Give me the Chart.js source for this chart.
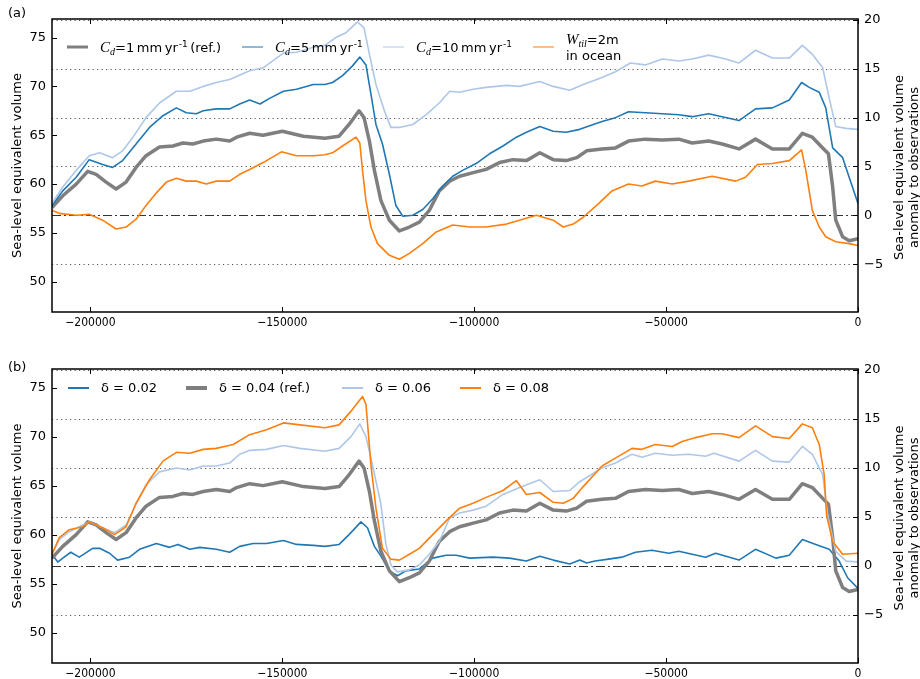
<!DOCTYPE html>
<html>
<head>
<meta charset="utf-8">
<script src="https://cdn.jsdelivr.net/npm/chart.js@4.4.0/dist/chart.umd.min.js"></script>
<style>
  body { margin: 0; background: #fff; }
  #page { position: relative; width: 920px; height: 679px; font-family: "DejaVu Sans", sans-serif; color: #000; }
  .panel { position: absolute; left: 0; width: 920px; }
  .panel canvas { position: absolute; left: 0; top: 0; }
  .tag { position: absolute; left: 8px; font-size: 13px; line-height: 16px; }
  .item { position: absolute; display: flex; align-items: center; transform: translateY(-50%);
          font-size: 13px; line-height: 16px; white-space: nowrap; }
  .swatch { display: inline-block; width: 21px; margin-right: 12px; }
  .m { font-family: "Liberation Serif", "DejaVu Serif", serif; font-style: italic; font-size: 15px; }
  sub, sup { font-size: 9px; line-height: 0; position: relative; vertical-align: baseline; }
  sub.m { font-size: 10px; top: 3px; }
  sup { top: -5px; }
</style>
</head>
<body>
<div id="page">
  <div class="panel" id="panelA" style="top:0;height:340px">
    <canvas id="chartA" width="920" height="340"></canvas>
    <div class="tag" style="top:5px">(a)</div>
  </div>
  <div class="panel" id="panelB" style="top:340px;height:339px">
    <canvas id="chartB" width="920" height="339"></canvas>
    <div class="tag" style="top:19px">(b)</div>
  </div>
</div>
<script>
// anomaly to observations (right axis); left axis = anomaly + SLE_OBS
SLE_OBS = 56.8;
R_MIN = -9.9;
R_MAX = 20.1;
X_MIN = -210000;
X_MAX = 0;

xTicks = [-200000, -150000, -100000, -50000, 0];
leftTicks = [50, 55, 60, 65, 70, 75];
rightTicks = [-5, 0, 5, 10, 15, 20];

// reference run (Cd = 1 mm/yr, delta = 0.04), shared by both panels
refYears = [-210000,-207200,-203700,-200700,-198500,-195900,-193300,-190700,-188100,-185500,-182000,-178500,-175900,-173300,-170600,-167200,-163700,-161900,-158500,-155000,-150000,-144500,-138900,-135200,-132600,-130000,-128700,-127300,-126000,-124300,-122100,-119500,-116900,-114300,-111700,-109100,-106400,-103800,-100000,-96900,-93400,-89900,-86400,-82900,-79400,-76000,-73300,-70700,-66700,-63200,-59800,-55400,-51000,-46700,-43200,-38900,-35400,-31000,-26700,-22300,-17900,-14500,-11900,-9200,-7700,-6600,-5800,-4000,-2300,0];
refVals = [0.8,2.0,3.2,4.5,4.2,3.4,2.7,3.4,4.9,6.1,7.0,7.1,7.4,7.3,7.6,7.8,7.6,8.0,8.4,8.2,8.6,8.1,7.9,8.1,9.3,10.7,10.0,7.6,4.6,1.5,-0.5,-1.6,-1.2,-0.7,0.5,2.5,3.5,4.0,4.4,4.7,5.4,5.7,5.6,6.4,5.7,5.6,5.9,6.6,6.8,6.9,7.6,7.8,7.7,7.8,7.4,7.6,7.3,6.8,7.8,6.8,6.8,8.4,8.0,6.9,6.3,2.9,-0.5,-2.2,-2.6,-2.4];

// panel (a)
cd5Years = [-210000,-207200,-203700,-200300,-196800,-194200,-191600,-188100,-184600,-181100,-177600,-175000,-172400,-170600,-167200,-163700,-161100,-158500,-155800,-153200,-149700,-146300,-141900,-138900,-136900,-134300,-131700,-129800,-128200,-126900,-125600,-123900,-122100,-120400,-118600,-116000,-113400,-110800,-108200,-105600,-103000,-99500,-96000,-92500,-89000,-86400,-82900,-79400,-76000,-72500,-66700,-63200,-59800,-55400,-51000,-46700,-43200,-38900,-35400,-31000,-26700,-22300,-17900,-14700,-12700,-10100,-8400,-6600,-4000,-2300,0];
cd5Vals = [1.0,2.5,3.9,5.7,5.2,4.9,5.6,7.3,9.0,10.2,11.0,10.5,10.4,10.7,10.9,10.9,11.4,11.8,11.4,12.0,12.7,12.9,13.4,13.4,13.6,14.3,15.3,16.2,15.4,12.4,9.3,7.3,4.2,1.0,-0.1,0.0,0.6,1.7,3.0,4.0,4.6,5.3,6.3,7.1,8.0,8.5,9.1,8.6,8.5,8.8,9.6,10.0,10.6,10.5,10.4,10.3,10.1,10.4,10.1,9.7,10.9,11.0,11.8,13.6,13.1,12.6,11.0,6.9,5.9,3.9,1.2];

cd10Years = [-210000,-207200,-203700,-200300,-197600,-194200,-191600,-188900,-185500,-182000,-177600,-174100,-170600,-167200,-163700,-158500,-155000,-149700,-146300,-141900,-138900,-136100,-133400,-130400,-128700,-127300,-125600,-123400,-121700,-119500,-116000,-112500,-109100,-106400,-103800,-100300,-96900,-91600,-88200,-82900,-79400,-75100,-71600,-66700,-63200,-59300,-55400,-51000,-46700,-43200,-38900,-34500,-31000,-26700,-22300,-17900,-14500,-11900,-9200,-7500,-5800,-3100,0];
cd10Vals = [1.2,2.9,4.6,6.1,6.4,5.9,6.6,8.0,10.0,11.5,12.7,12.7,13.2,13.6,13.9,14.8,15.1,16.6,16.7,17.2,17.4,18.2,18.7,19.8,19.2,16.5,13.4,10.7,9.0,9.0,9.3,10.3,11.5,12.7,12.6,12.9,13.1,13.3,13.2,13.7,13.2,12.8,13.4,14.1,14.7,15.6,15.4,16.0,15.8,16.0,16.4,16.0,15.6,16.9,16.1,16.1,17.4,16.5,15.1,12.0,9.1,8.9,8.8];

wtilYears = [-210000,-208100,-203700,-200300,-196800,-193300,-190700,-188100,-185500,-182800,-180200,-177600,-175000,-172400,-169800,-167200,-163700,-161100,-158500,-155000,-150200,-146300,-141900,-138900,-136900,-134300,-130800,-129800,-129100,-128200,-126900,-125200,-122100,-119500,-116900,-113400,-109900,-105600,-101200,-96900,-91600,-88200,-83800,-79400,-76800,-74200,-71600,-67600,-64100,-59800,-56300,-52800,-48400,-44100,-38000,-31900,-29300,-26200,-22300,-17900,-14700,-13600,-11900,-10100,-8400,-5800,-2300,0];
wtilVals = [0.5,0.2,0.0,0.1,-0.5,-1.4,-1.2,-0.4,1.0,2.3,3.4,3.8,3.5,3.5,3.2,3.5,3.5,4.2,4.7,5.4,6.5,6.1,6.1,6.2,6.4,7.1,8.0,7.4,4.6,1.5,-1.2,-2.9,-4.1,-4.5,-3.9,-2.9,-1.7,-1.0,-1.2,-1.2,-0.9,-0.5,0.0,-0.5,-1.2,-0.9,-0.2,1.2,2.5,3.2,3.0,3.5,3.2,3.5,4.0,3.5,3.9,5.2,5.3,5.6,6.7,4.6,0.5,-1.2,-2.2,-2.7,-2.9,-3.1];

// panel (b)
d02Years = [-210000,-208500,-207200,-205100,-202900,-199400,-197600,-195000,-192900,-189800,-187200,-182800,-179400,-177200,-174100,-171500,-167200,-163700,-161100,-157600,-154100,-149700,-146300,-141900,-138900,-135200,-132600,-129500,-127800,-126000,-124300,-122100,-120000,-117800,-114300,-110800,-107300,-104700,-101200,-95100,-90800,-86400,-82900,-79400,-75100,-72500,-70700,-68500,-65000,-61500,-58000,-53700,-49300,-46700,-43200,-39700,-37100,-31000,-26700,-21400,-17900,-14500,-11000,-7500,-4900,-2700,0];
d02Vals = [1.2,0.4,0.8,1.4,0.9,1.8,1.8,1.3,0.6,0.9,1.7,2.3,1.9,2.2,1.7,1.9,1.7,1.4,2.0,2.3,2.3,2.6,2.2,2.1,2.0,2.2,3.2,4.5,3.9,2.0,1.0,-0.5,-1.0,-0.5,-0.3,0.8,1.1,1.1,0.8,0.9,0.8,0.5,1.0,0.6,0.2,0.6,0.3,0.5,0.7,0.9,1.4,1.6,1.3,1.5,1.2,0.9,1.3,0.6,1.7,0.8,1.1,2.7,2.2,1.7,0.5,-1.2,-2.3];

d06Years = [-210000,-208100,-205500,-202900,-200300,-196800,-193700,-190700,-188100,-185500,-182000,-177600,-174100,-170600,-167200,-163700,-161100,-158500,-154100,-149700,-145400,-138900,-135200,-132100,-129800,-128200,-126500,-124300,-123000,-121700,-120000,-116900,-114300,-111700,-109100,-106400,-103800,-100300,-96900,-92500,-88200,-82900,-79400,-75100,-72500,-66700,-63200,-58900,-56300,-52800,-48400,-44100,-39700,-37500,-31000,-26700,-22300,-17900,-14500,-11900,-9200,-7900,-5800,-3100,0];
d06Vals = [1.2,2.7,3.5,4.0,4.5,3.9,3.4,4.2,6.3,8.3,9.6,10.0,9.8,10.2,10.2,10.5,11.4,11.8,11.9,12.3,12.0,11.7,12.0,13.2,14.5,13.2,10.3,6.3,2.2,0.1,-0.6,-0.4,0.1,1.2,2.5,4.9,5.4,5.7,6.1,7.3,8.0,8.8,7.6,7.7,8.6,10.0,10.5,11.4,11.1,11.5,11.3,11.4,11.2,11.5,10.7,11.8,10.7,10.6,12.2,11.4,9.3,5.2,1.5,0.5,0.4];

d08Years = [-210000,-208100,-205500,-202000,-200300,-196800,-193700,-190700,-188100,-184600,-181100,-177600,-174100,-170600,-167200,-162800,-158500,-154100,-149700,-145400,-138900,-135200,-132100,-129100,-128200,-126900,-125600,-123900,-121700,-119500,-116900,-114300,-110800,-107300,-103800,-100300,-96900,-92500,-89000,-86400,-82900,-79400,-76800,-74200,-71600,-66700,-63200,-58900,-56300,-52800,-48400,-45800,-42300,-38000,-35400,-31000,-26700,-22300,-17900,-14500,-11900,-10100,-8800,-8200,-6600,-4000,0];
d08Vals = [1.2,2.9,3.7,4.0,4.5,3.9,3.2,4.0,6.4,8.8,10.7,11.6,11.5,11.9,12.0,12.4,13.4,13.9,14.6,14.4,14.1,14.4,15.8,17.3,16.5,10.3,5.9,1.8,0.7,0.6,1.2,1.8,3.2,4.6,5.9,6.4,7.0,7.7,8.7,7.3,7.5,6.5,6.4,6.9,8.1,10.2,11.0,12.0,11.9,12.4,12.2,12.7,13.1,13.5,13.5,13.1,14.3,13.2,13.0,14.5,14.1,12.4,9.3,5.2,2.5,1.2,1.3];

GRAY = '#7f7f7f';
BLUE = '#1f77b4';
LIGHTBLUE = '#aec7e8';
ORANGE = '#ff7f0e';

function minus(v) {
    return v < 0 ? '\u2212' + Math.abs(v) : String(v);
}

function pts(xs, ys) {
    return xs.map(function(x, i) { return {x: x, y: ys[i]}; });
}

// dotted grid, dash-dot zero line, frame, inward ticks, right title
var framePlugin = {
    id: 'frame',
    beforeDatasetsDraw(chart) {
        const ctx = chart.ctx, a = chart.chartArea, yR = chart.scales.yR;
        ctx.save();
        ctx.lineWidth = 1;
        rightTicks.forEach(function(v) {
            const y = Math.round(yR.getPixelForValue(v)) + 0.5;
            ctx.beginPath();
            if (v === 0) {
                ctx.setLineDash([9, 3, 2, 3]);
                ctx.strokeStyle = '#333';
            } else {
                ctx.setLineDash([1.2, 3.3]);
                ctx.strokeStyle = '#555';
            }
            ctx.moveTo(a.left, y);
            ctx.lineTo(a.right, y);
            ctx.stroke();
        });
        ctx.restore();
    },
    afterDraw(chart) {
        const ctx = chart.ctx, a = chart.chartArea, s = chart.scales;
        ctx.save();
        ctx.strokeStyle = '#000';
        ctx.lineWidth = 1;
        ctx.beginPath();
        xTicks.forEach(function(v) {
            const x = Math.round(s.x.getPixelForValue(v)) + 0.5;
            ctx.moveTo(x, a.bottom); ctx.lineTo(x, a.bottom - 5);
            ctx.moveTo(x, a.top); ctx.lineTo(x, a.top + 5);
        });
        leftTicks.forEach(function(v) {
            const y = Math.round(s.yL.getPixelForValue(v)) + 0.5;
            ctx.moveTo(a.left, y); ctx.lineTo(a.left + 5, y);
        });
        rightTicks.forEach(function(v) {
            const y = Math.round(s.yR.getPixelForValue(v)) + 0.5;
            ctx.moveTo(a.right, y); ctx.lineTo(a.right - 5, y);
        });
        ctx.stroke();
        ctx.lineWidth = 1.5;
        ctx.strokeRect(a.left, a.top, a.right - a.left, a.bottom - a.top);

        // right axis title, read bottom to top like the left one
        ctx.fillStyle = '#000';
        ctx.font = '13px "DejaVu Sans"';
        ctx.textAlign = 'center';
        ctx.textBaseline = 'middle';
        ctx.translate(a.right + 42, (a.top + a.bottom) / 2 + 2);
        ctx.rotate(-Math.PI / 2);
        ctx.fillText('Sea-level equivalent volume', 0, 0);
        ctx.fillText('anomaly to observations', 0, 15);
        ctx.restore();
    }
};

function makePanel(canvasId, series, padTop, xAxisH) {
    var n = series.length;
    var datasets = series.map(function(s, i) {
        return {
            label: s.label,
            legendHtml: s.html,
            data: pts(s.years, s.vals),
            borderColor: s.color,
            borderWidth: s.width,
            pointRadius: 0,
            tension: 0,
            fill: false,
            yAxisID: 'yR',
            order: n - 1 - i,
            borderJoinStyle: 'round'
        };
    });
    var tickFont = {family: '"DejaVu Sans", sans-serif', size: 13};
    return new Chart(document.getElementById(canvasId), {
        type: 'line',
        data: {datasets: datasets},
        options: {
            responsive: false,
            animation: false,
            events: [],
            layout: {padding: {top: padTop, left: 0, right: 0, bottom: 0}},
            plugins: {legend: {display: false}, tooltip: {enabled: false}},
            scales: {
                x: {
                    type: 'linear', min: X_MIN, max: X_MAX,
                    grid: {display: false, drawTicks: false},
                    border: {display: false},
                    afterBuildTicks: function(sc) { sc.ticks = xTicks.map(function(v) { return {value: v}; }); },
                    ticks: {
                        autoSkip: false, maxRotation: 0, padding: 4, color: '#000',
                        font: {family: '"Liberation Sans Narrow", "DejaVu Sans Condensed", sans-serif', size: 12},
                        callback: minus
                    },
                    afterFit: function(sc) { sc.height = xAxisH; }
                },
                yL: {
                    type: 'linear', position: 'left',
                    min: R_MIN + SLE_OBS, max: R_MAX + SLE_OBS,
                    grid: {display: false, drawTicks: false},
                    border: {display: false},
                    afterBuildTicks: function(sc) { sc.ticks = leftTicks.map(function(v) { return {value: v}; }); },
                    ticks: {padding: 6, color: '#000', font: tickFont, callback: minus},
                    title: {
                        display: true, text: 'Sea-level equivalent volume', color: '#000',
                        font: {family: '"DejaVu Sans", sans-serif', size: 13},
                        padding: {top: 10, bottom: 0}
                    },
                    afterFit: function(sc) { sc.width = 52; }
                },
                yR: {
                    type: 'linear', position: 'right',
                    min: R_MIN, max: R_MAX,
                    grid: {display: false, drawTicks: false},
                    border: {display: false},
                    afterBuildTicks: function(sc) { sc.ticks = rightTicks.map(function(v) { return {value: v}; }); },
                    ticks: {padding: 6, color: '#000', font: tickFont, callback: minus},
                    afterFit: function(sc) { sc.width = 62; }
                }
            }
        },
        plugins: [framePlugin]
    });
}

function buildLegend(panelId, chart, xs, cy) {
    var panel = document.getElementById(panelId);
    chart.data.datasets.forEach(function(ds, i) {
        var item = document.createElement('div');
        item.className = 'item';
        item.style.left = xs[i] + 'px';
        item.style.top = cy + 'px';
        var sw = document.createElement('span');
        sw.className = 'swatch';
        sw.style.height = ds.borderWidth + 'px';
        sw.style.background = ds.borderColor;
        var tx = document.createElement('span');
        tx.innerHTML = ds.legendHtml;
        item.appendChild(sw);
        item.appendChild(tx);
        panel.appendChild(item);
    });
}

var CD = '<span class="m">C</span><sub class="m">d</sub>';
var chartA = makePanel('chartA', [
    {label: 'Cd=1 mm yr-1 (ref.)', html: CD + '=1&#8201;mm&#8201;yr<sup>&#8202;-1</sup>&#8201;(ref.)', years: refYears, vals: refVals, color: GRAY, width: 3.5},
    {label: 'Cd=5 mm yr-1', html: CD + '=5&#8201;mm&#8201;yr<sup>&#8202;-1</sup>', years: cd5Years, vals: cd5Vals, color: BLUE, width: 1.6},
    {label: 'Cd=10 mm yr-1', html: CD + '=10&#8201;mm&#8201;yr<sup>&#8202;-1</sup>', years: cd10Years, vals: cd10Vals, color: LIGHTBLUE, width: 1.6},
    {label: 'Wtil=2m in ocean', html: '<span class="m">W</span><sub class="m">til</sub>=2m<br>in ocean', years: wtilYears, vals: wtilVals, color: ORANGE, width: 1.6}
], 19, 28);

var chartB = makePanel('chartB', [
    {label: '\u03b4 = 0.02', html: '\u03b4 = 0.02', years: d02Years, vals: d02Vals, color: BLUE, width: 1.6},
    {label: '\u03b4 = 0.04 (ref.)', html: '\u03b4 = 0.04 (ref.)', years: refYears, vals: refVals, color: GRAY, width: 3.5},
    {label: '\u03b4 = 0.06', html: '\u03b4 = 0.06', years: d06Years, vals: d06Vals, color: LIGHTBLUE, width: 1.6},
    {label: '\u03b4 = 0.08', html: '\u03b4 = 0.08', years: d08Years, vals: d08Vals, color: ORANGE, width: 1.6}
], 29, 16);

buildLegend('panelA', chartA, [67, 242, 383, 533], 47);
buildLegend('panelB', chartB, [68, 186, 342, 460], 48);
</script>
</body>
</html>
